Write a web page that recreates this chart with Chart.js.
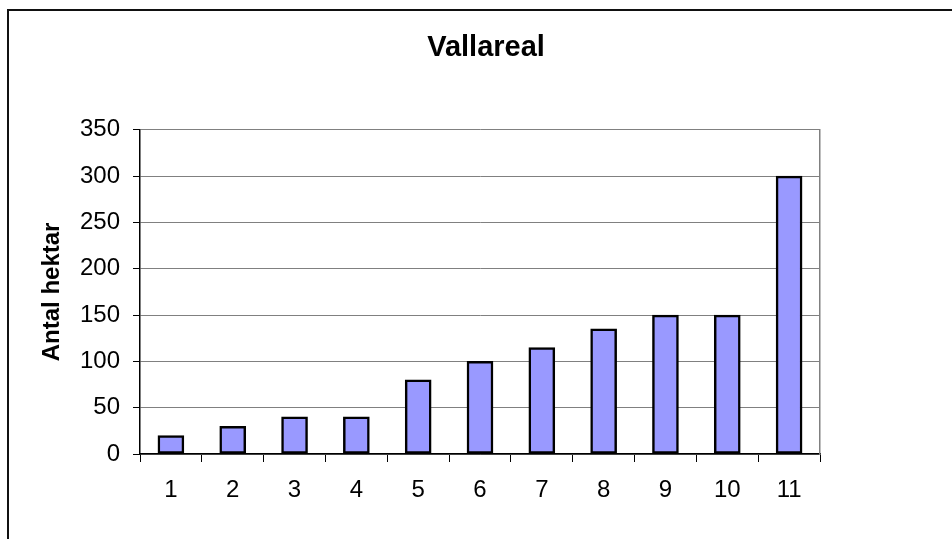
<!DOCTYPE html>
<html>
<head>
<meta charset="utf-8">
<script src="https://cdn.jsdelivr.net/npm/chart.js@4.4.0/dist/chart.umd.min.js"></script>
<style>
  html, body { margin: 0; padding: 0; background: #fff; overflow: hidden; }
  .wrap { position: relative; width: 952px; height: 539px; overflow: hidden; }
  .frame { position: absolute; left: 7px; top: 9px; width: 2000px; height: 2000px;
           border-top: 2px solid #111; border-left: 2px solid #111; }
  #myChart { position: absolute; left: 0; top: 0; }
</style>
</head>
<body>
<div class="wrap">
  <div class="frame"></div>
  <canvas id="myChart" width="972" height="539"></canvas>
</div>
<script>
const labels = ["1", "2", "3", "4", "5", "6", "7", "8", "9", "10", "11"];
const hektar = [20, 30, 40, 40, 80, 100, 115, 135, 150, 150, 300];

Chart.defaults.font.family = "'Liberation Sans', Arial, sans-serif";
Chart.defaults.color = "#000";

window.myBar = new Chart(document.getElementById("myChart"), {
  type: "bar",
  data: {
    labels: labels,
    datasets: [
      {
        label: "Antal hektar",
        data: hektar,
        backgroundColor: "rgb(153, 153, 255)",
        borderColor: "#000",
        borderWidth: 2.5,
        borderSkipped: false,
        barThickness: 26,
      },
    ],
  },
  options: {
    responsive: false,
    animation: false,
    layout: { padding: 0 },
    plugins: {
      legend: { display: false },
      tooltip: { enabled: false },
      title: {
        display: true,
        text: "Vallareal",
        color: "#000",
        font: { size: 29, weight: "bold" },
        padding: { top: 31, bottom: 64 },
      },
    },
    scales: {
      x: {
        offset: true,
        grid: {
          offset: true,
          drawOnChartArea: false,
          tickColor: "#000",
          tickLength: 8,
        },
        border: { color: "#000", width: 1.5 },
        ticks: { font: { size: 24 }, padding: 14, maxRotation: 0 },
        afterFit: (s) => { s.height = 85; },
      },
      y: {
        min: 0,
        max: 350,
        ticks: { stepSize: 50, font: { size: 24 }, padding: 13 },
        grid: { color: "#808080", tickColor: "#000", tickLength: 7 },
        border: { color: "#000", width: 1.5 },
        title: {
          display: true,
          text: "Antal hektar",
          color: "#000",
          font: { size: 24, weight: "bold" },
          padding: { top: 38, bottom: 0 },
        },
        afterFit: (s) => { s.width = 140; },
      },
      y2: {
        position: "right",
        ticks: { display: false },
        grid: { display: false },
        border: { color: "#808080", width: 1.5 },
        afterFit: (s) => { s.width = 152; },
      },
    },
  },
});
</script>
</body>
</html>
